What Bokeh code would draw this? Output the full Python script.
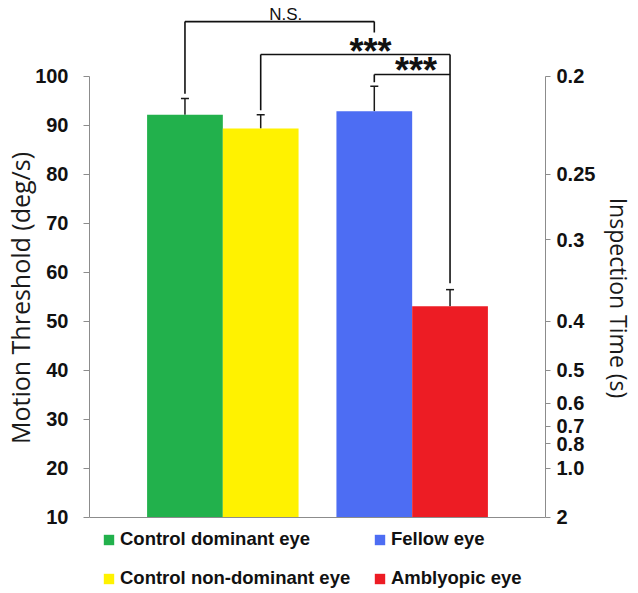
from bokeh.plotting import figure
from bokeh.models import (FactorRange, ColumnDataSource, Whisker, TeeHead, LinearAxis,
                          FixedTicker, CustomJSTickFormatter, Range1d, Legend, LegendItem, Span)
from bokeh.core.properties import value
from bokeh.embed import file_html
from bokeh.resources import INLINE

# ---------------- data ----------------
groups = ["Control", "Control", "Amblyopia", "Amblyopia"]
eye_keys = ["dominant", "non-dominant", "fellow", "amblyopic"]
eye_labels = ["Control dominant eye", "Control non-dominant eye", "Fellow eye", "Amblyopic eye"]
thresholds = [92.2, 89.4, 92.9, 53.1]          # deg/s
errors = [3.3, 2.8, 5.1, 3.4]
colors = ["#22B14C", "#FFF200", "#4D6DF3", "#ED1C24"]

left_ticks = [10, 20, 30, 40, 50, 60, 70, 80, 90, 100]
right_times = [0.2, 0.25, 0.3, 0.4, 0.5, 0.6, 0.7, 0.8, 1.0, 2.0]
right_labels = ["0.2", "0.25", "0.3", "0.4", "0.5", "0.6", "0.7", "0.8", "1.0", "2"]
time_scale = 20.0   # threshold (deg/s) = 20 / inspection time (s)

sig_labels = ["N.S.", "***", "***"]

# ---------------- figure ----------------
factors = list(zip(groups, eye_keys))
x_range = FactorRange(factors=factors, factor_padding=0, group_padding=0.5,
                      range_padding=0.338, range_padding_units="percent")
# frame extends below the axis baseline (10) to host the legend
y_range = Range1d(-5.51, 115.1)

p = figure(x_range=x_range, y_range=y_range, width=638, height=593,
           output_backend="svg", toolbar_location=None,
           min_border_left=88, min_border_right=93, min_border_top=2, min_border_bottom=0)
p.outline_line_color = None
p.xgrid.visible = False
p.ygrid.visible = False
p.xaxis.visible = False
p.background_fill_color = "white"
p.border_fill_color = "white"

src = ColumnDataSource(dict(
    x=factors, top=thresholds, upper=[t + e for t, e in zip(thresholds, errors)],
    color=colors, label=eye_labels))

bars = p.vbar(x="x", top="top", bottom=10, width=1.0, fill_color="color",
              line_color=None, source=src)

whisk = Whisker(base="x", upper="upper", lower="top", source=src,
                line_color="#1a1a1a", line_width=1.5,
                upper_head=TeeHead(size=8, line_color="#1a1a1a", line_width=1.5),
                lower_head=None)
p.add_layout(whisk)

# baseline
p.add_layout(Span(location=10, dimension="width", line_color="#8c8c8c", line_width=1.2))

# left axis
ax = p.yaxis[0]
ax.ticker = FixedTicker(ticks=left_ticks)
ax.bounds = (10, 100)
ax.axis_label = "Motion Threshold (deg/s)"

# right axis
rax = LinearAxis(ticker=FixedTicker(ticks=[time_scale / t for t in right_times]),
                 bounds=(10, 100), axis_label="Inspection Time (s)",
                 formatter=CustomJSTickFormatter(
                     args=dict(times=right_times, labels=right_labels, sc=time_scale),
                     code="""
let best = 0, bd = 1e9;
for (let i = 0; i < times.length; i++) {
  const d = Math.abs(sc / times[i] - tick);
  if (d < bd) { bd = d; best = i; }
}
return labels[best];
"""))
p.add_layout(rax, "right")

for a, standoff, tout in ((ax, 15, 6), (rax, 6, 5)):
    a.axis_line_color = "#8c8c8c"
    a.major_tick_line_color = "#8c8c8c"
    a.minor_tick_line_color = None
    a.major_tick_out = tout
    a.major_tick_in = 0
    a.major_label_standoff = standoff
    a.major_label_text_font = "Liberation Sans"
    a.major_label_text_font_style = "bold"
    a.major_label_text_font_size = "20px"
    a.major_label_text_color = "#111111"
    a.axis_label_text_font = "Open Sans"
    a.axis_label_text_font_style = "normal"
    a.axis_label_text_color = "#1a1a1a"
ax.axis_label_text_font_size = "25px"
rax.axis_label_text_font_size = "23px"
ax.axis_label_standoff = -5
rax.axis_label_standoff = 5

# ---------------- significance brackets ----------------
G, Y, B, R = factors
br = dict(
    x0=[G, G, B, Y, Y, R, B, B],
    y0=[96.5, 111.2, 111.2, 93.1, 104.5, 104.5, 98.8, 100.4],
    x1=[G, B, B, Y, R, R, B, R],
    y1=[111.2, 111.2, 109.0, 104.5, 104.5, 57.8, 100.4, 100.4],
)
p.segment(x0="x0", y0="y0", x1="x1", y1="y1", source=ColumnDataSource(br),
          line_color="#111111", line_width=1.6)

p.text(x=[("Control", "non-dominant", 0.33)], y=[112.65], text=[sig_labels[0]],
       text_font=value("Liberation Sans"), text_font_size="17px",
       text_align="center", text_baseline="middle", text_color="#111111")
p.text(x=[("Amblyopia", "fellow", -0.05), ("Amblyopia", "fellow", 0.55)],
       y=[106.7, 102.9], text=sig_labels[1:],
       text_font=value("Liberation Sans"), text_font_style="bold", text_font_size="36px",
       text_align="center", text_baseline="middle", text_color="#111111",
       y_offset=8)

# ---------------- legend ----------------
items = [LegendItem(label=eye_labels[i], renderers=[bars], index=i) for i in range(4)]
legend = Legend(items=items, location=(13, 4), orientation="vertical", nrows=2,
                glyph_width=13, glyph_height=13, label_standoff=5, label_height=18,
                label_width=236, spacing=17, padding=0, margin=0,
                border_line_color=None, background_fill_alpha=0,
                label_text_font="Liberation Sans", label_text_font_style="bold",
                label_text_font_size="18.5px", label_text_color="#111111")
p.add_layout(legend, "center")

open("out.html", "w").write(file_html(p, INLINE))
